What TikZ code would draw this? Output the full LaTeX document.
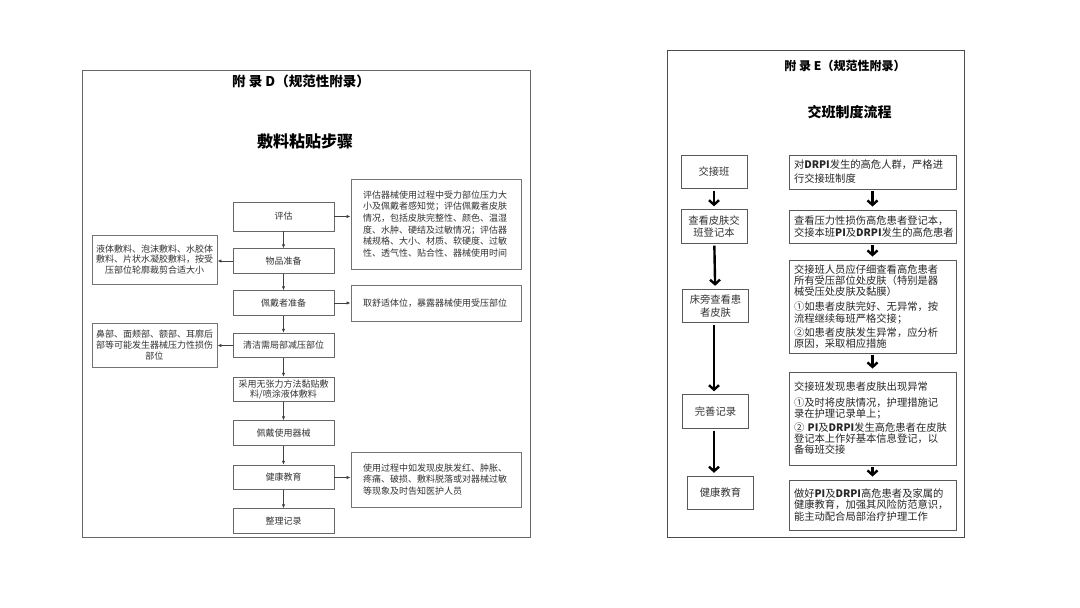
\documentclass[tikz,border=0pt]{standalone}
\usepackage{fontspec}
\setmainfont{Noto Sans CJK SC}
\usetikzlibrary{positioning, arrows.meta}

\begin{document}
\begin{tikzpicture}[
    x=1pt, y=-1pt,
    frame/.style={draw=black!60, line width=1pt},
    stepbox/.style={rectangle, draw=black!60, line width=0.9pt, minimum width=101pt, minimum height=24.5pt, align=center, inner sep=2pt, text=black!80, font=\fontsize{9}{10.5}\selectfont},
    notebox/.style={rectangle, draw=black!55, line width=0.9pt, text width=146pt, inner xsep=12pt, inner ysep=3pt, align=left, text=black!80, font=\fontsize{9}{11.7}\selectfont},
    sidebox/.style={rectangle, draw=black!55, line width=0.9pt, text width=119pt, inner xsep=3pt, inner ysep=3pt, align=center, text=black!80, font=\fontsize{9}{10.8}\selectfont},
    shiftbox/.style={rectangle, draw=black!65, line width=0.9pt, minimum width=66pt, minimum height=33.5pt, align=center, inner sep=3pt, text=black!80, font=\fontsize{10.3}{12.3}\selectfont},
    flowbox/.style={rectangle, draw=black!65, line width=0.9pt, text width=157pt, inner xsep=5pt, inner ysep=3pt, align=left, text=black!85, font=\fontsize{10.3}{11.2}\selectfont},
    thin/.style={-{Latex[length=4pt, width=3.4pt]}, line width=0.8pt, draw=black!75},
    thick/.style={-{Straight Barb[length=4.5pt, width=10pt]}, line width=2.4pt, shorten <=2pt, shorten >=3pt}
]
    \useasboundingbox[fill=white] (0,0) rectangle (1080,608);

    % Appendix D
    \draw[frame] (82,70) rectangle (530,537);
    \node[font=\fontsize{13.5}{15}\selectfont\bfseries] (titled) at (301,81) {附 录 D（规范性附录）};
    \node[font=\fontsize{16}{18}\selectfont\bfseries] (named) at (305,141) {敷料粘贴步骤};

    \node[stepbox, minimum height=29pt] (assess) at (283.5,216.5) {评估};
    \node[stepbox] (prepare) at (283.5,261) {物品准备};
    \node[stepbox] (wearer) at (283.5,303) {佩戴者准备};
    \node[stepbox] (clean) at (283.5,345.5) {清洁需局部减压部位};
    \node[stepbox] (apply) at (283.5,389.5) {采用无张力方法黏贴敷\\料/喷涂液体敷料};
    \node[stepbox] (wear) at (283.5,433) {佩戴使用器械};
    \node[stepbox] (educate) at (283.5,477.5) {健康教育};
    \node[stepbox] (record) at (283.5,521) {整理记录};

    \node[notebox, minimum height=90pt] (assessnote) at (436,224) {评估器械使用过程中受力部位压力大\\小及佩戴者感知觉；评估佩戴者皮肤\\情况，包括皮肤完整性、颜色、温湿\\度、水肿、硬结及过敏情况；评估器\\械规格、大小、材质、软硬度、过敏\\性、透气性、贴合性、器械使用时间};
    \node[notebox, minimum height=36pt] (wearernote) at (436,303) {取舒适体位，暴露器械使用受压部位};
    \node[notebox, minimum height=55pt] (educatenote) at (436,479.5) {使用过程中如发现皮肤发红、肿胀、\\疼痛、破损、敷料脱落或对器械过敏\\等现象及时告知医护人员};
    \node[sidebox, minimum height=49pt] (preparenote) at (154.5,259.5) {液体敷料、泡沫敷料、水胶体\\敷料、片状水凝胶敷料，按受\\压部位轮廓裁剪合适大小};
    \node[sidebox, minimum height=44pt] (cleannote) at (154.5,345) {鼻部、面颊部、额部、耳廓后\\部等可能发生器械压力性损伤\\部位};

    \foreach \a/\b in {assess/prepare, prepare/wearer, wearer/clean, clean/apply, apply/wear, wear/educate, educate/record}
        \draw[thin] (\a) -- (\b);
    \draw[thin] (assess) -- (assess -| assessnote.west);
    \draw[thin] (wearer) -- (wearer -| wearernote.west);
    \draw[thin] (educate) -- (educate -| educatenote.west);
    \draw[thin] (prepare) -- (prepare -| preparenote.east);
    \draw[thin] (clean) -- (clean -| cleannote.east);

    % Appendix E
    \draw[frame, draw=black!70] (667,50) rectangle (964,537);
    \node[font=\fontsize{12}{14}\selectfont\bfseries] (titlee) at (845,66) {附 录 E（规范性附录）};
    \node[font=\fontsize{14}{16}\selectfont\bfseries] (namee) at (849.5,112) {交班制度流程};

    \node[shiftbox] (handover) at (714,172) {交接班};
    \node[shiftbox] (checkbook) at (714,226.5) {查看皮肤交\\班登记本};
    \node[shiftbox] (bedside) at (715.5,306) {床旁查看患\\者皮肤};
    \node[shiftbox] (complete) at (715.5,411.5) {完善记录};
    \node[shiftbox] (teach) at (720.5,493) {健康教育};

    \node[flowbox, minimum height=34pt, font=\fontsize{10.3}{14}\selectfont] (duty) at (872.5,172) {对\textbf{DRPI}发生的高危人群，严格进\\行交接班制度};
    \node[flowbox, minimum height=33pt] (register) at (872.5,226.5) {查看压力性损伤高危患者登记本，\\交接本班\textbf{PI}及\textbf{DRPI}发生的高危患者};
    \node[flowbox, minimum height=93pt] (inspect) at (872.5,306.5) {交接班人员应仔细查看高危患者\\所有受压部位处皮肤（特别是器\\械受压处皮肤及黏膜）\\[4pt]①如患者皮肤完好、无异常，按\\流程继续每班严格交接；\\[3pt]②如患者皮肤发生异常，应分析\\原因，采取相应措施};
    \node[flowbox, minimum height=93pt] (abnormal) at (872.5,418.5) {交接班发现患者皮肤出现异常\\[4pt]①及时将皮肤情况，护理措施记\\录在护理记录单上；\\[3pt]② \textbf{PI}及\textbf{DRPI}发生高危患者在皮肤\\登记本上作好基本信息登记，以\\备每班交接};
    \node[flowbox, minimum height=50pt] (guide) at (872.5,505) {做好\textbf{PI}及\textbf{DRPI}高危患者及家属的\\健康教育，加强其风险防范意识，\\能主动配合局部治疗护理工作};

    \draw[thick] (handover) -- (checkbook);
    \draw[thick] (checkbook) -- (bedside);
    \draw[thick] (bedside.south -| checkbook) -- (complete.north -| checkbook);
    \draw[thick] (complete.south -| checkbook) -- (teach.north -| checkbook);
    \foreach \a/\b in {duty/register, register/inspect, inspect/abnormal, abnormal/guide}
        \draw[thick] (\a) -- (\b);
\end{tikzpicture}
\end{document}
